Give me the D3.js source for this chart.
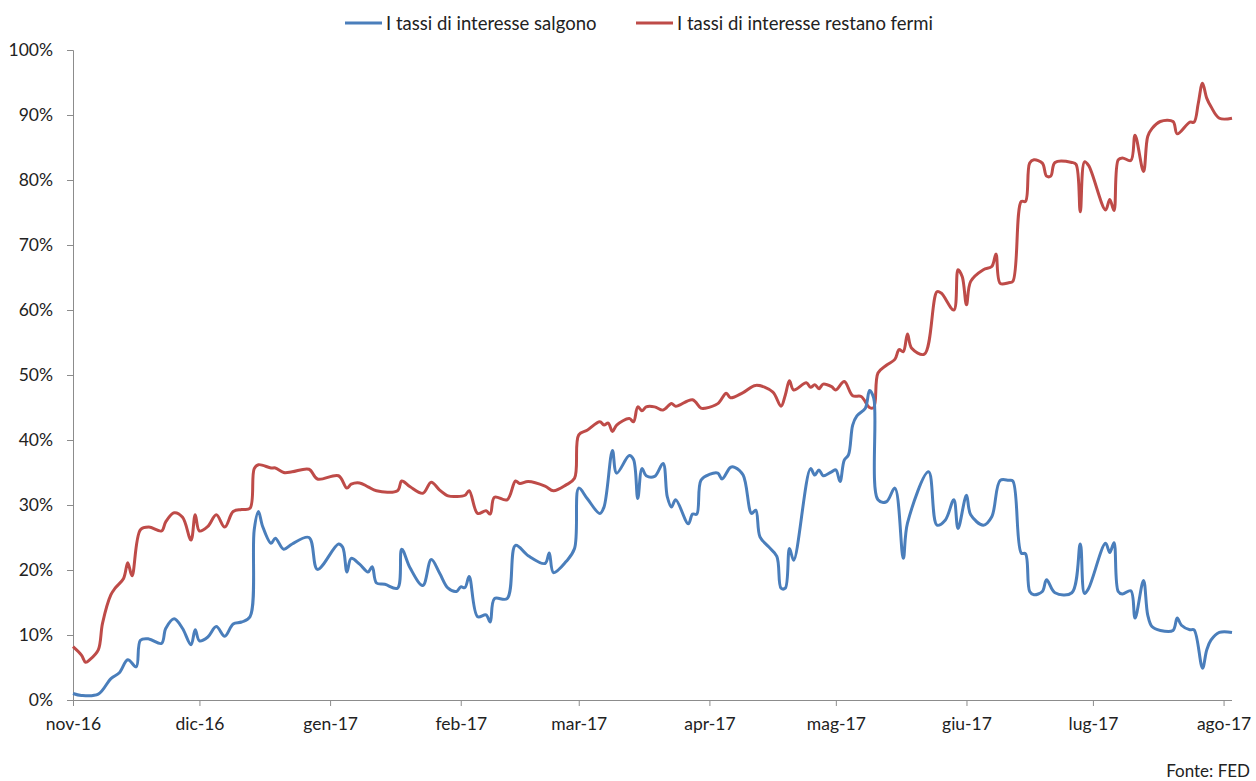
<!DOCTYPE html>
<html>
<head>
<meta charset="utf-8">
<script src="https://cdn.jsdelivr.net/npm/d3@7"></script>
<style>
  html, body { margin: 0; padding: 0; background: #fff; }
  svg { display: block; font-family: "Lato", "Open Sans", sans-serif; }
</style>
</head>
<body>
<svg id="chart" width="1256" height="781"></svg>
<script>
// Days counted from 1 Nov 2016
const startDate = new Date(2016, 10, 1);

// "I tassi di interesse salgono" (probability of a hike, %)
const hikeDays = [0,2,6,9,11,13,15,16,18,21,22,24,26,28,29,30,32,34,36,38,40,42,43,44,45,47,48,50,52,56,58,63,64,65,66,68,70,71,72,74,77,78,80,83,85,87,89,91,92,93,94,96,98,99,100,103,105,108,112,113,114,117,119,120,122,125,126,128,129,132,133,134,135,136,138,140,141,142,143,146,147,148,149,151,153,154,156,157,159,161,162,163,165,167,168,169,170,171,175,176,177,178,180,181,182,183,184,185,186,188,189,190,191,193,195,197,198,203,205,207,209,210,212,213,216,218,220,222,223,225,226,227,228,230,231,233,237,239,240,241,245,246,247,248,249,251,252,254,255,256,258,261,262,263,265,266,268,269,270,272,275];
const hikeValues = [1.0,0.7,0.9,3.3,4.2,6.2,5.1,9.2,9.4,8.7,11.0,12.5,11.0,8.5,10.8,9.1,9.7,11.3,9.8,11.7,12.0,12.8,26.2,29.0,26.7,24.1,24.9,23.2,24.0,25.0,20.1,24.0,23.5,19.7,21.8,20.9,19.7,20.5,18.0,17.8,17.2,23.2,20.3,17.6,21.6,19.5,17.2,16.7,17.4,17.3,19.0,12.8,13.1,12.0,15.6,15.6,23.8,22.2,21.0,22.6,19.6,21.3,23.3,32.6,31.0,28.7,29.7,38.4,34.9,37.6,37.0,31.0,35.6,34.5,34.4,36.4,31.3,29.7,30.8,27.1,28.6,28.6,33.8,34.7,34.9,34.0,35.8,35.8,34.6,28.7,29.2,25.1,23.6,22.1,17.2,17.2,23.3,21.5,35.6,34.6,35.4,34.5,35.1,35.4,33.6,36.9,37.7,42.3,43.7,44.9,47.6,46.4,30.8,30.5,32.6,21.8,27.2,35.1,26.9,27.7,30.8,26.4,31.5,28.5,26.9,28.2,33.8,33.8,33.7,22.6,22.5,16.7,16.2,16.7,18.5,16.5,16.5,24.0,16.4,17.2,24.1,22.7,24.2,16.7,16.3,16.8,12.6,18.4,13.1,11.3,10.7,10.7,12.6,11.5,10.8,10.8,4.9,7.7,9.2,10.4,10.4];

// "I tassi di interesse restano fermi" (probability of no change, %)
const holdDays = [0,2,3,4,6,7,9,10,12,13,14,16,18,21,22,24,26,28,29,30,32,34,36,38,40,42,43,44,47,48,50,52,56,58,63,65,66,68,70,72,77,78,80,83,85,87,89,91,93,94,96,98,99,100,103,105,106,108,112,114,117,119,120,122,125,126,127,128,129,132,133,134,135,136,138,140,142,143,147,149,150,153,155,156,159,162,166,168,169,170,171,174,175,176,177,178,180,181,183,185,187,189,190,191,193,195,196,197,198,199,202,205,206,209,210,211,212,213,216,218,219,220,222,223,225,226,227,228,230,231,232,233,237,238,239,240,241,245,246,247,248,249,251,252,254,255,256,258,261,262,265,266,267,268,269,270,272,275];
const holdValues = [8.2,6.9,5.8,6.2,7.7,11.8,16.2,17.2,18.7,21.1,19.1,26.2,26.6,26.0,27.4,28.8,28.1,24.6,28.5,26.0,26.7,28.5,26.6,29.0,29.3,29.5,35.6,36.2,35.7,35.7,35.0,35.1,35.5,34.0,34.5,32.6,33.2,33.4,32.8,32.2,32.2,33.7,32.8,31.8,33.5,32.3,31.4,31.3,31.5,32.2,28.7,29.1,28.6,31.2,30.8,33.7,33.3,33.6,32.9,32.2,33.1,34.1,40.8,41.5,42.8,42.3,42.6,41.3,42.3,43.3,42.8,45.1,44.5,45.1,45.1,44.6,45.6,45.2,46.2,44.9,44.9,45.6,47.2,46.5,47.3,48.4,47.4,45.2,46.9,49.1,47.7,48.8,48.1,48.5,47.9,48.6,48.2,47.7,49.0,46.8,46.7,45.0,45.0,50.3,51.5,52.4,53.9,53.6,56.3,54.1,53.2,62.8,62.6,60.0,66.2,65.1,60.8,64.4,66.2,66.7,68.6,64.1,64.2,64.4,76.7,76.7,82.6,83.1,82.6,80.6,80.6,82.7,82.7,82.4,75.1,82.8,82.2,75.4,77.0,75.3,83.1,83.4,83.0,86.9,81.3,86.7,87.9,89.0,89.0,87.1,88.9,88.9,91.8,94.9,92.6,91.3,89.5,89.5];

// Axis ticks
const monthTicks = [0, 30, 61, 92, 120, 151, 181, 212, 242, 273];
const monthLabels = ["nov-16","dic-16","gen-17","feb-17","mar-17","apr-17","mag-17","giu-17","lug-17","ago-17"];
const yTicks = [0,10,20,30,40,50,60,70,80,90,100];

const seriesNames = ["I tassi di interesse salgono", "I tassi di interesse restano fermi"];
const seriesColors = ["#4a7ebb", "#be4b48"];

const toDate = d => d3.timeDay.offset(startDate, d);

const svg = d3.select("#chart");
const x = d3.scaleTime().domain([toDate(0), toDate(275)]).range([73, 1232]);
const y = d3.scaleLinear().domain([0, 100]).range([700, 50]);

const axisColor = "#8c8c8c";
const textColor = "#222";

// Y axis
const yAxis = svg.append("g").attr("transform", "translate(73,0)")
  .call(d3.axisLeft(y).tickValues(yTicks).tickSize(6).tickPadding(14).tickFormat(d => d + "%"));
yAxis.select(".domain").attr("stroke", axisColor);
yAxis.selectAll(".tick line").attr("stroke", axisColor);
yAxis.selectAll("text").attr("fill", textColor).style("font-size", "17.5px").style("font-family", "Lato, sans-serif");

// X axis
const xAxis = svg.append("g").attr("transform", "translate(0,700)")
  .call(d3.axisBottom(x).tickValues(monthTicks.map(toDate)).tickSize(6).tickPadding(12)
    .tickFormat((d, i) => monthLabels[i]));
xAxis.select(".domain").attr("stroke", axisColor).attr("d", "M73,0.5H1232");
xAxis.selectAll(".tick line").attr("stroke", axisColor);
xAxis.selectAll("text").attr("fill", textColor).style("font-size", "17.5px").style("font-family", "Lato, sans-serif");

// Lines
const line = d3.line()
  .x(d => x(toDate(d[0])))
  .y(d => y(d[1]))
  .curve(d3.curveCatmullRom.alpha(0.5));

const hikeData = hikeDays.map((d, i) => [d, hikeValues[i]]);
const holdData = holdDays.map((d, i) => [d, holdValues[i]]);

svg.append("path").datum(holdData)
  .attr("d", line).attr("fill", "none")
  .attr("stroke", seriesColors[1]).attr("stroke-width", 3).attr("stroke-linejoin", "round");
svg.append("path").datum(hikeData)
  .attr("d", line).attr("fill", "none")
  .attr("stroke", seriesColors[0]).attr("stroke-width", 3).attr("stroke-linejoin", "round");

// Legend
const legendItems = [{x: 345}, {x: 636}];
legendItems.forEach((item, i) => {
  const g = svg.append("g").attr("transform", `translate(${item.x},23)`);
  g.append("line").attr("x1", 0).attr("x2", 37).attr("y1", 0).attr("y2", 0)
    .attr("stroke", seriesColors[i]).attr("stroke-width", 3);
  g.append("text").attr("x", 41).attr("y", 6.5).attr("fill", textColor)
    .style("font-size", "18.5px").text(seriesNames[i]);
});

// Source
svg.append("text").attr("x", 1250).attr("y", 777).attr("text-anchor", "end")
  .attr("fill", textColor).style("font-size", "17px").text("Fonte: FED");
</script>
</body>
</html>
